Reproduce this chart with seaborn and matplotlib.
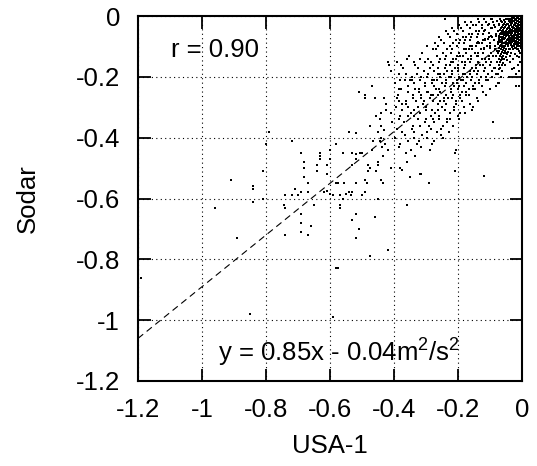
import matplotlib
matplotlib.use("Agg")
import matplotlib.pyplot as plt
import seaborn as sns
import pandas as pd

# ---- data (USA-1 vs Sodar) ----
sparse_x = [-0.79, -0.80, -0.72, -0.69, -0.63, -0.63, -0.60, -0.68, -0.64, -0.81, -0.91, -0.84, -0.84,
            -0.68, -0.67, -0.71, -0.72, -0.70, -0.61, -0.575, -0.60, -0.61, -0.84, -0.81, -0.96, -0.89,
            -0.74, -0.745, -0.74, -0.69, -0.67, -0.69, -0.69, -0.66, -0.69, -0.67, -0.74, -0.65, -0.62,
            -0.59, -0.57, -0.85, -0.59, -0.575, -1.19, -0.56, -0.54, -0.53, -0.49, -0.45, -0.57, -0.52,
            -0.53, -0.51, -0.52, -0.46, -0.36, -0.42, -0.475, -0.58]
sparse_y = [-0.38, -0.42, -0.41, -0.45, -0.45, -0.46, -0.47, -0.50, -0.49, -0.51, -0.54, -0.56, -0.57,
            -0.53, -0.55, -0.57, -0.59, -0.59, -0.52, -0.55, -0.585, -0.575, -0.61, -0.60, -0.63, -0.73,
            -0.59, -0.62, -0.63, -0.58, -0.58, -0.65, -0.68, -0.69, -0.71, -0.72, -0.72, -0.62, -0.58,
            -0.59, -0.62, -0.98, -0.99, -0.83, -0.86, -0.60, -0.58, -0.58, -0.58, -0.60, -0.63, -0.65,
            -0.67, -0.70, -0.73, -0.66, -0.62, -0.77, -0.79, -0.83]

mid_x = [-0.56, -0.53, -0.52, -0.505, -0.50, -0.52, -0.53, -0.48, -0.475, -0.49, -0.485, -0.45, -0.45,
         -0.455, -0.44, -0.435, -0.48, -0.58, -0.555, -0.52, -0.57, -0.55, -0.535, -0.50, -0.41, -0.38,
         -0.375, -0.35, -0.29, -0.32, -0.315, -0.21, -0.205, -0.21, -0.12, -0.09, -0.42, -0.415, -0.41,
         -0.47, -0.51, -0.49, -0.49, -0.46, -0.43, -0.39, -0.385, -0.38, -0.35, -0.44, -0.445, -0.41,
         -0.475, -0.44, -0.45, -0.43, -0.54, -0.52, -0.58, -0.60, -0.24, -0.09, -0.27, -0.04, -0.02,
         -0.01, -0.425, -0.405, -0.455, -0.445, -0.428, -0.418, -0.437, -0.44, -0.425, -0.63, -0.64,
         -0.68, -0.61, -0.465, -0.47, -0.435]
mid_y = [-0.45, -0.45, -0.455, -0.45, -0.45, -0.47, -0.49, -0.49, -0.50, -0.54, -0.55, -0.48, -0.49,
         -0.51, -0.54, -0.55, -0.51, -0.55, -0.55, -0.55, -0.59, -0.585, -0.59, -0.59, -0.50, -0.50,
         -0.505, -0.53, -0.55, -0.52, -0.52, -0.45, -0.44, -0.51, -0.525, -0.35, -0.15, -0.16, -0.18,
         -0.23, -0.25, -0.26, -0.27, -0.27, -0.27, -0.27, -0.28, -0.21, -0.21, -0.32, -0.34, -0.32,
         -0.36, -0.36, -0.38, -0.375, -0.38, -0.385, -0.42, -0.44, -0.01, -0.02, -0.11, -0.20, -0.23,
         -0.23, -0.31, -0.35, -0.33, -0.41, -0.42, -0.44, -0.43, -0.40, -0.29, -0.47, -0.51, -0.48,
         -0.49, -0.41, -0.44, -0.46]

band_x = [-0.392, -0.384, -0.398, -0.387, -0.395, -0.381, -0.390, -0.396, -0.383,
          -0.372, -0.365, -0.378, -0.361, -0.374, -0.368, -0.376, -0.363,
          -0.352, -0.345, -0.357, -0.342, -0.355, -0.348, -0.341, -0.356, -0.346,
          -0.334, -0.327, -0.338, -0.322, -0.331, -0.336, -0.325, -0.339, -0.328, -0.333,
          -0.313, -0.306, -0.318, -0.302, -0.315, -0.309, -0.319, -0.304, -0.311, -0.316,
          -0.293, -0.286, -0.297, -0.282, -0.295, -0.288, -0.299, -0.284, -0.291, -0.296, -0.287,
          -0.272, -0.265, -0.278, -0.262, -0.275, -0.268, -0.279, -0.263, -0.271, -0.276, -0.266, -0.274,
          -0.253, -0.246, -0.258, -0.242, -0.255, -0.249, -0.257, -0.244, -0.251, -0.259, -0.247, -0.254,
          -0.232, -0.225, -0.238, -0.222, -0.235, -0.228, -0.239, -0.223, -0.231, -0.236, -0.226, -0.234, -0.229,
          -0.213, -0.206, -0.218, -0.202, -0.215, -0.209, -0.219, -0.204, -0.211, -0.216, -0.207, -0.214, -0.201, -0.217,
          -0.192, -0.185, -0.198, -0.182, -0.195, -0.188, -0.199, -0.183, -0.191, -0.196, -0.186, -0.194, -0.181, -0.197,
          -0.173, -0.166, -0.178, -0.162, -0.175, -0.169, -0.179, -0.164, -0.171, -0.176, -0.167, -0.174, -0.161, -0.177,
          -0.152, -0.145, -0.158, -0.142, -0.155, -0.148, -0.159, -0.143, -0.151, -0.156, -0.146, -0.154, -0.141, -0.157,
          -0.133, -0.126, -0.138, -0.122, -0.135, -0.129, -0.139, -0.124, -0.131, -0.136, -0.127, -0.134, -0.121, -0.137,
          -0.112, -0.105, -0.118, -0.102, -0.115, -0.108, -0.119, -0.103, -0.111, -0.116, -0.106, -0.114, -0.101,
          -0.093, -0.086, -0.098, -0.082, -0.095, -0.089, -0.099, -0.084, -0.091, -0.096, -0.087, -0.094, -0.081]
band_y = [-0.15, -0.19, -0.22, -0.26, -0.30, -0.33, -0.37, -0.40, -0.43,
          -0.17, -0.21, -0.24, -0.28, -0.31, -0.35, -0.38, -0.45,
          -0.13, -0.20, -0.23, -0.26, -0.30, -0.32, -0.36, -0.41, -0.44,
          -0.16, -0.19, -0.22, -0.25, -0.28, -0.31, -0.34, -0.38, -0.42, -0.46,
          -0.12, -0.18, -0.21, -0.23, -0.26, -0.29, -0.32, -0.35, -0.39, -0.43,
          -0.14, -0.17, -0.20, -0.22, -0.25, -0.27, -0.30, -0.33, -0.36, -0.40, -0.44,
          -0.09, -0.13, -0.16, -0.19, -0.21, -0.24, -0.26, -0.29, -0.32, -0.35, -0.38, -0.41,
          -0.08, -0.12, -0.15, -0.17, -0.20, -0.22, -0.25, -0.27, -0.30, -0.33, -0.36, -0.39,
          -0.06, -0.10, -0.13, -0.15, -0.18, -0.20, -0.22, -0.24, -0.27, -0.29, -0.32, -0.35, -0.38,
          -0.05, -0.08, -0.11, -0.13, -0.15, -0.17, -0.19, -0.21, -0.23, -0.26, -0.28, -0.31, -0.33, -0.36,
          -0.04, -0.07, -0.09, -0.11, -0.13, -0.15, -0.17, -0.19, -0.21, -0.23, -0.25, -0.27, -0.30, -0.34,
          -0.03, -0.06, -0.08, -0.10, -0.12, -0.14, -0.16, -0.18, -0.20, -0.22, -0.24, -0.26, -0.29, -0.32,
          -0.03, -0.05, -0.07, -0.09, -0.11, -0.12, -0.14, -0.16, -0.18, -0.20, -0.22, -0.24, -0.27, -0.31,
          -0.02, -0.04, -0.06, -0.08, -0.09, -0.11, -0.13, -0.14, -0.16, -0.18, -0.20, -0.22, -0.25, -0.28,
          -0.02, -0.03, -0.05, -0.07, -0.08, -0.10, -0.11, -0.13, -0.15, -0.17, -0.19, -0.21, -0.24,
          -0.01, -0.03, -0.04, -0.06, -0.07, -0.08, -0.10, -0.11, -0.13, -0.15, -0.17, -0.20, -0.23]

band2_x = [-0.378, -0.385, -0.376, -0.383, -0.380,
           -0.358, -0.364, -0.355, -0.362, -0.357, -0.366, -0.359,
           -0.338, -0.344, -0.335, -0.342, -0.336, -0.345, -0.339,
           -0.318, -0.324, -0.315, -0.322, -0.316, -0.325, -0.319, -0.321,
           -0.298, -0.304, -0.295, -0.302, -0.296, -0.305, -0.299, -0.301, -0.297,
           -0.278, -0.284, -0.275, -0.282, -0.276, -0.285, -0.279, -0.281, -0.277, -0.283, -0.280,
           -0.258, -0.264, -0.255, -0.262, -0.256, -0.265, -0.259, -0.261, -0.257, -0.263, -0.260, -0.254,
           -0.238, -0.244, -0.235, -0.242, -0.236, -0.245, -0.239, -0.241, -0.237, -0.243, -0.240, -0.234, -0.246,
           -0.218, -0.224, -0.215, -0.222, -0.216, -0.225, -0.219, -0.221, -0.217, -0.223, -0.220, -0.214, -0.226,
           -0.198, -0.204, -0.195, -0.202, -0.196, -0.205, -0.199, -0.201, -0.197, -0.203, -0.200, -0.194, -0.206, -0.193,
           -0.178, -0.184, -0.175, -0.182, -0.176, -0.185, -0.179, -0.181, -0.177, -0.183, -0.180, -0.174, -0.186,
           -0.158, -0.164, -0.155, -0.162, -0.156, -0.165, -0.159, -0.161, -0.157, -0.163, -0.160, -0.154, -0.166, -0.153,
           -0.138, -0.144, -0.135, -0.142, -0.136, -0.145, -0.139, -0.141, -0.137, -0.143, -0.140, -0.134, -0.146,
           -0.118, -0.124, -0.115, -0.122, -0.116, -0.125, -0.119, -0.121, -0.117, -0.123, -0.120, -0.114, -0.126, -0.113,
           -0.098, -0.104, -0.095, -0.102, -0.096, -0.105, -0.099, -0.101, -0.097, -0.103, -0.100, -0.094, -0.106,
           -0.078, -0.084, -0.075, -0.082, -0.076, -0.085, -0.079, -0.081, -0.077, -0.083, -0.080, -0.074]
band2_y = [-0.16, -0.24, -0.29, -0.34, -0.42,
           -0.14, -0.19, -0.25, -0.29, -0.33, -0.39, -0.48,
           -0.15, -0.21, -0.24, -0.27, -0.33, -0.37, -0.40,
           -0.14, -0.17, -0.20, -0.24, -0.27, -0.30, -0.36, -0.41,
           -0.10, -0.15, -0.19, -0.22, -0.25, -0.28, -0.31, -0.34, -0.38,
           -0.11, -0.15, -0.18, -0.21, -0.23, -0.26, -0.28, -0.31, -0.34, -0.37, -0.42,
           -0.07, -0.10, -0.14, -0.17, -0.19, -0.21, -0.24, -0.26, -0.28, -0.31, -0.34, -0.37,
           -0.05, -0.09, -0.11, -0.14, -0.16, -0.19, -0.21, -0.23, -0.26, -0.28, -0.31, -0.34, -0.40,
           -0.04, -0.07, -0.09, -0.12, -0.14, -0.16, -0.18, -0.20, -0.22, -0.25, -0.27, -0.30, -0.34,
           -0.03, -0.06, -0.08, -0.10, -0.12, -0.14, -0.16, -0.18, -0.20, -0.22, -0.24, -0.26, -0.29, -0.32,
           -0.02, -0.05, -0.07, -0.09, -0.11, -0.13, -0.15, -0.17, -0.19, -0.21, -0.23, -0.25, -0.28,
           -0.02, -0.04, -0.06, -0.08, -0.10, -0.11, -0.13, -0.15, -0.17, -0.19, -0.21, -0.23, -0.26, -0.30,
           -0.01, -0.03, -0.05, -0.07, -0.085, -0.10, -0.12, -0.13, -0.15, -0.17, -0.19, -0.21, -0.24,
           -0.01, -0.03, -0.045, -0.06, -0.075, -0.09, -0.105, -0.12, -0.14, -0.16, -0.18, -0.20, -0.23, -0.26,
           -0.01, -0.025, -0.04, -0.055, -0.065, -0.075, -0.09, -0.105, -0.12, -0.14, -0.16, -0.18, -0.21,
           -0.015, -0.035, -0.05, -0.065, -0.085, -0.10, -0.115, -0.13, -0.15, -0.17, -0.19, -0.22]

core_x = [-0.003, -0.004, -0.002, -0.003, -0.005, -0.002, -0.004, -0.003, -0.002, -0.004, -0.003, -0.005,
          -0.009, -0.010, -0.008, -0.009, -0.011, -0.008, -0.010, -0.009, -0.008, -0.011, -0.009, -0.010,
          -0.015, -0.016, -0.014, -0.015, -0.017, -0.014, -0.016, -0.015, -0.014, -0.017, -0.015, -0.016,
          -0.021, -0.022, -0.020, -0.021, -0.023, -0.020, -0.022, -0.021, -0.020, -0.023, -0.021,
          -0.027, -0.028, -0.026, -0.027, -0.029, -0.026, -0.028, -0.027, -0.026, -0.029, -0.027,
          -0.033, -0.034, -0.032, -0.033, -0.035, -0.032, -0.034, -0.033, -0.032, -0.035,
          -0.039, -0.040, -0.038, -0.039, -0.041, -0.038, -0.040, -0.039, -0.038,
          -0.045, -0.046, -0.044, -0.045, -0.047, -0.044, -0.046, -0.045, -0.044, -0.047,
          -0.052, -0.053, -0.051, -0.052, -0.054, -0.051, -0.053, -0.052, -0.051, -0.054,
          -0.059, -0.060, -0.058, -0.059, -0.061, -0.058, -0.060, -0.059, -0.058, -0.061,
          -0.066, -0.067, -0.065, -0.066, -0.068, -0.065, -0.067, -0.066, -0.065, -0.068, -0.066,
          -0.073, -0.074, -0.072, -0.073, -0.075, -0.072, -0.074, -0.073, -0.072, -0.075, -0.073,
          -0.006, -0.012, -0.018, -0.024, -0.030, -0.036, -0.006, -0.013, -0.019, -0.025, -0.006, -0.012,
          -0.018, -0.031, -0.042, -0.006, -0.013, -0.024, -0.036, -0.049, -0.062, -0.008, -0.019, -0.030]
core_y = [-0.005, -0.015, -0.025, -0.035, -0.045, -0.055, -0.065, -0.075, -0.085, -0.095, -0.105, -0.12,
          -0.010, -0.020, -0.030, -0.040, -0.050, -0.060, -0.070, -0.080, -0.090, -0.100, -0.115, -0.135,
          -0.005, -0.017, -0.028, -0.038, -0.047, -0.058, -0.068, -0.077, -0.088, -0.098, -0.110, -0.13,
          -0.012, -0.022, -0.033, -0.043, -0.052, -0.063, -0.072, -0.083, -0.093, -0.105, -0.125,
          -0.008, -0.018, -0.030, -0.041, -0.050, -0.061, -0.070, -0.081, -0.092, -0.110, -0.14,
          -0.015, -0.026, -0.037, -0.048, -0.058, -0.067, -0.079, -0.090, -0.102, -0.12,
          -0.020, -0.032, -0.044, -0.055, -0.066, -0.078, -0.090, -0.107, -0.13,
          -0.010, -0.027, -0.040, -0.052, -0.064, -0.075, -0.088, -0.100, -0.118, -0.145,
          -0.020, -0.035, -0.048, -0.060, -0.073, -0.086, -0.100, -0.115, -0.135, -0.16,
          -0.030, -0.045, -0.057, -0.070, -0.083, -0.097, -0.112, -0.130, -0.155, -0.18,
          -0.015, -0.040, -0.055, -0.068, -0.080, -0.095, -0.110, -0.125, -0.145, -0.170, -0.20,
          -0.025, -0.050, -0.065, -0.078, -0.092, -0.105, -0.120, -0.140, -0.160, -0.190, -0.22,
          -0.010, -0.004, -0.012, -0.003, -0.006, -0.009, -0.060, -0.054, -0.046, -0.041, -0.100, -0.092,
          -0.087, -0.072, -0.085, -0.150, -0.160, -0.170, -0.150, -0.120, -0.140, -0.180, -0.190, -0.175]

core2_x = [-0.006, -0.007, -0.005, -0.006, -0.007, -0.005, -0.006, -0.007, -0.005, -0.006,
           -0.012, -0.013, -0.011, -0.012, -0.013, -0.011, -0.012, -0.013, -0.011, -0.012, -0.013,
           -0.018, -0.019, -0.017, -0.018, -0.019, -0.017, -0.018, -0.019, -0.017, -0.018,
           -0.024, -0.025, -0.023, -0.024, -0.025, -0.023, -0.024, -0.025, -0.023, -0.024,
           -0.030, -0.031, -0.029, -0.030, -0.031, -0.029, -0.030, -0.031, -0.029,
           -0.036, -0.037, -0.035, -0.036, -0.037, -0.035, -0.036, -0.037, -0.035,
           -0.042, -0.043, -0.041, -0.042, -0.043, -0.041, -0.042, -0.043, -0.041,
           -0.049, -0.050, -0.048, -0.049, -0.050, -0.048, -0.049, -0.050, -0.048,
           -0.056, -0.057, -0.055, -0.056, -0.057, -0.055, -0.056, -0.057, -0.055, -0.056,
           -0.063, -0.064, -0.062, -0.063, -0.064, -0.062, -0.063, -0.064, -0.062, -0.063,
           -0.070, -0.071, -0.069, -0.070, -0.071, -0.069, -0.070, -0.071, -0.069, -0.070, -0.071]
core2_y = [-0.010, -0.020, -0.030, -0.040, -0.050, -0.060, -0.070, -0.080, -0.090, -0.100,
           -0.005, -0.015, -0.025, -0.035, -0.045, -0.055, -0.065, -0.075, -0.085, -0.095, -0.110,
           -0.010, -0.022, -0.033, -0.043, -0.053, -0.063, -0.073, -0.083, -0.093, -0.105,
           -0.005, -0.016, -0.027, -0.038, -0.048, -0.057, -0.067, -0.077, -0.088, -0.100,
           -0.012, -0.024, -0.035, -0.045, -0.055, -0.065, -0.075, -0.086, -0.097,
           -0.010, -0.020, -0.031, -0.042, -0.052, -0.062, -0.072, -0.084, -0.096,
           -0.015, -0.026, -0.037, -0.048, -0.060, -0.070, -0.082, -0.094, -0.110,
           -0.010, -0.028, -0.042, -0.055, -0.067, -0.080, -0.093, -0.107, -0.125,
           -0.012, -0.025, -0.040, -0.052, -0.064, -0.077, -0.090, -0.105, -0.120, -0.140,
           -0.020, -0.035, -0.048, -0.060, -0.074, -0.088, -0.102, -0.118, -0.136, -0.160,
           -0.010, -0.030, -0.045, -0.058, -0.072, -0.085, -0.100, -0.115, -0.132, -0.150, -0.175]

fit_slope = 0.85
fit_intercept = -0.04
r_text = "r = 0.90"
fit_text = "y = 0.85x - 0.04m$^2$/s$^2$"
xticks = [-1.2, -1.0, -0.8, -0.6, -0.4, -0.2, 0.0]
xticklabels = ["-1.2", "-1", "-0.8", "-0.6", "-0.4", "-0.2", "0"]
yticks = [-1.2, -1.0, -0.8, -0.6, -0.4, -0.2, 0.0]
yticklabels = ["-1.2", "-1", "-0.8", "-0.6", "-0.4", "-0.2", "0"]

df = pd.DataFrame({
    "USA-1": sparse_x + mid_x + band_x + band2_x + core_x + core2_x,
    "Sodar": sparse_y + mid_y + band_y + band2_y + core_y + core2_y,
})

sns.set_theme(style="white")
plt.rcParams["font.family"] = ["Liberation Sans", "DejaVu Sans"]
plt.rcParams["mathtext.fontset"] = "custom"
plt.rcParams["mathtext.rm"] = "Liberation Sans"
plt.rcParams["mathtext.it"] = "Liberation Sans:italic"

fig = plt.figure(figsize=(5.37, 4.66), dpi=100)
ax = fig.add_axes([138 / 537, 1 - 381 / 466, (522 - 138) / 537, (381 - 16) / 466])

sns.scatterplot(data=df, x="USA-1", y="Sodar", ax=ax, color="black", marker="s",
                s=3.0, linewidth=0, zorder=3)
ax.axline((0, fit_intercept), slope=fit_slope, color="black", lw=0.8,
          ls=(0, (6, 4)), zorder=2)

ax.set_xlim(-1.2, 0)
ax.set_ylim(-1.2, 0)
ax.set_xticks(xticks)
ax.set_xticklabels(xticklabels)
ax.set_yticks(yticks)
ax.set_yticklabels(yticklabels)
ax.grid(True, color="black", lw=0.8, ls=(0, (1, 3)))
ax.set_axisbelow(True)
for s in ax.spines.values():
    s.set_color("black")
    s.set_linewidth(1.5)
ax.tick_params(direction="in", length=9, width=1.3, color="black", labelsize=18.5,
               top=True, right=True, bottom=True, left=True, labelcolor="black")
ax.tick_params(axis="x", pad=12)
ax.tick_params(axis="y", pad=13)
ax.set_xlabel("USA-1", fontsize=18.5, color="black", labelpad=9)
ax.set_ylabel("Sodar", fontsize=18.5, color="black", labelpad=26)

ax.text(-1.097, -0.134, r_text, fontsize=18.5, ha="left", va="baseline", color="black")
ax.text(-0.95, -1.135, fit_text, fontsize=18.5, ha="left", va="baseline", color="black")

fig.savefig("out.png", dpi=100)
